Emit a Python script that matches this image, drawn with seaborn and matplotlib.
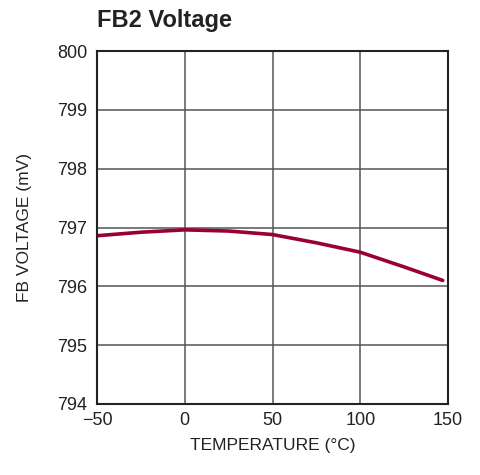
import matplotlib
matplotlib.use("Agg")
import matplotlib.pyplot as plt
import pandas as pd
import seaborn as sns

temperature = [-50, -25, 0, 25, 50, 75, 100, 125, 147]
fb_voltage = [796.86, 796.92, 796.96, 796.94, 796.88, 796.74, 796.58, 796.33, 796.10]
x_ticks = [-50, 0, 50, 100, 150]
x_tick_labels = ["\u221250", "0", "50", "100", "150"]
y_ticks = [794, 795, 796, 797, 798, 799, 800]

sns.set_style("white")
plt.rcParams["font.family"] = ["Liberation Sans Narrow", "Liberation Sans", "DejaVu Sans"]

df = pd.DataFrame({"temp": temperature, "volt": fb_voltage})

fig = plt.figure(figsize=(4.81, 4.75), dpi=100)
ax = fig.add_axes([0.2017, 0.1495, 0.7297, 0.7431])
sns.lineplot(data=df, x="temp", y="volt", color="#9a0032", linewidth=2.6, ax=ax)

ax.set_xlim(-50, 150)
ax.set_ylim(794, 800)
ax.set_xticks(x_ticks)
ax.set_xticklabels(x_tick_labels)
ax.set_yticks(y_ticks)
ax.grid(True, color="#555555", linewidth=1.1)
ax.set_axisbelow(True)
for s in ax.spines.values():
    s.set_color("#222222")
    s.set_linewidth(1.5)
ax.tick_params(length=0, labelsize=13, colors="#222222")
ax.tick_params(axis="y", pad=7)
ax.tick_params(axis="x", pad=6)
ax.set_xlabel("TEMPERATURE (\u00b0C)", fontsize=12.5, color="#222222", labelpad=6)
ax.set_ylabel("FB VOLTAGE (mV)", fontsize=12.5, color="#222222", labelpad=18)
fig.text(0.2017, 0.957, "FB2 Voltage", fontsize=17, fontweight="bold", color="#222222",
         ha="left", va="center")

fig.savefig("out.png", dpi=100)
plt.close(fig)
